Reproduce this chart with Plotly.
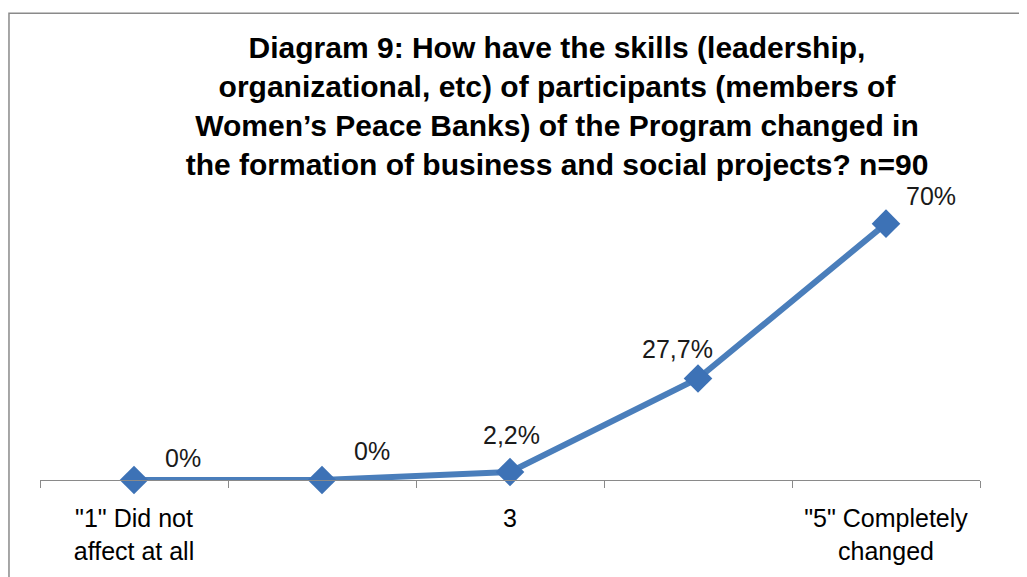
import plotly.graph_objects as go

categories = ['"1" Did not<br>affect at all', '2', '3', '4', '"5" Completely<br>changed']
tick_labels = ['"1" Did not<br>affect at all', '', '3', '', '"5" Completely<br>changed']
values = [0, 0, 2.2, 27.7, 70]
value_labels = ['0%', '0%', '2,2%', '27,7%', '70%']
title_text = ("Diagram 9: How have the skills (leadership,<br>"
              "organizational, etc) of participants (members of<br>"
              "Women\u2019s Peace Banks) of the Program changed in<br>"
              "the formation of business and social projects? n=90")

# label offsets in pixels (style only)
label_shift = [(49, 22), (50, 29), (1, 37), (-21, 30), (45, 28)]

LINE = '#4a7ebb'
FONT = 'Liberation Sans, Arial, sans-serif'
W, H = 1019, 569

fig = go.Figure()
fig.add_trace(go.Scatter(
    x=categories, y=values, mode='lines+markers',
    line=dict(color=LINE, width=6),
    marker=dict(symbol='diamond', size=22, color='#3d72b6', line=dict(width=0)),
    hoverinfo='skip', showlegend=False, cliponaxis=False,
))

for i, (v, t, (dx, dy)) in enumerate(zip(values, value_labels, label_shift)):
    fig.add_annotation(x=i, y=v, text=t, showarrow=False, xshift=dx, yshift=dy,
                       font=dict(family=FONT, size=25, color='#1a1a1a'))

fig.add_shape(type='rect', xref='paper', yref='paper', x0=-0.033, x1=1.2, y0=-1.0, y1=1.593,
              line=dict(color='#8a8a8a', width=1.5), fillcolor='rgba(0,0,0,0)', layer='below')

fig.update_layout(
    width=W, height=H,
    margin=dict(l=32, r=47, t=179, b=95),
    paper_bgcolor='white', plot_bgcolor='white',
    title=dict(text='<b>' + title_text + '</b>', x=(557 - 8) / W, xanchor='center',
               y=1 - 50 / H, yanchor='top',
               font=dict(family=FONT, size=30, color='black')),
    xaxis=dict(type='category', categoryarray=categories, tickmode='array',
               tickvals=categories, ticktext=tick_labels, tickson='boundaries',
               range=[-0.5, 4.5], showline=True, linecolor='#8a8a8a', linewidth=1,
               ticks='outside', ticklen=7, tickcolor='#8a8a8a', showgrid=False,
               ticklabelstandoff=16,
               zeroline=False, tickfont=dict(family=FONT, size=25, color='black')),
    yaxis=dict(range=[0, 80], visible=False, showgrid=False, zeroline=False),
)

fig.write_html('out.html')
